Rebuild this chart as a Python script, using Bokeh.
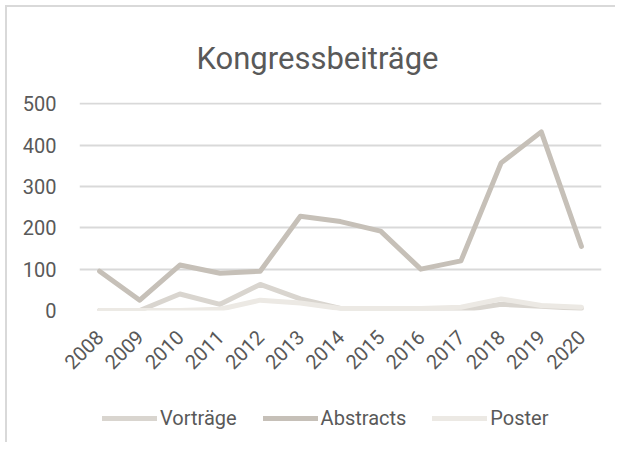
import math
from bokeh.plotting import figure
from bokeh.layouts import column
from bokeh.models import Legend, LegendItem, Title, Range1d, FixedTicker
from bokeh.embed import file_html
from bokeh.resources import INLINE

years = ["2008", "2009", "2010", "2011", "2012", "2013", "2014",
         "2015", "2016", "2017", "2018", "2019", "2020"]
vortraege = [0, 0, 40, 15, 63, 28, 5, 5, 5, 0, 15, 10, 5]
abstracts = [95, 25, 110, 90, 95, 228, 215, 192, 100, 120, 357, 432, 155]
poster = [0, 0, 0, 3, 25, 18, 5, 5, 5, 8, 28, 12, 8]
y_ticks = [0, 100, 200, 300, 400, 500]
series_names = ["Vorträge", "Abstracts", "Poster"]
series_colors = ["#d9d5cf", "#c6c0b8", "#ece9e4"]
series_values = [vortraege, abstracts, poster]

FONT = "Roboto"
TXT = "#595959"
GRID = "#d9d9d9"

p = figure(x_range=years, y_range=Range1d(0, 503), width=608, height=388,
           output_backend="svg", toolbar_location=None,
           min_border_left=72, min_border_right=14, min_border_top=95,
           min_border_bottom=85)
p.x_range.range_padding = 0
p.outline_line_color = None
p.background_fill_color = "white"
p.border_fill_color = "white"

t = Title(text="Kongressbeiträge", align="left", text_font=FONT,
          text_font_size="31px", text_color=TXT, text_font_style="normal",
          standoff=52, offset=117)
p.add_layout(t, "above")

p.xgrid.grid_line_color = None
p.ygrid.grid_line_color = GRID
p.ygrid.grid_line_width = 2
p.yaxis.ticker = FixedTicker(ticks=y_ticks)

for ax in (p.xaxis[0], p.yaxis[0]):
    ax.axis_line_color = None
    ax.major_tick_line_color = None
    ax.minor_tick_line_color = None
    ax.major_label_text_font = FONT
    ax.major_label_text_color = TXT
p.yaxis.major_label_text_font_size = "20px"
p.yaxis.major_label_standoff = 17
p.xaxis.major_label_text_font_size = "20px"
p.xaxis.major_label_orientation = math.pi / 4
p.xaxis.major_label_standoff = 17

common = dict(line_width=5, line_join="round", line_cap="round")
for vals, col in zip(series_values, series_colors):
    p.line(years, vals, line_color=col, **common)

# legend strip below the chart (its own series lie outside its visible range)
p2 = figure(width=608, height=47, output_backend="svg", toolbar_location=None,
            min_border_left=72, min_border_right=14, min_border_top=0,
            min_border_bottom=0, x_range=years, y_range=Range1d(1000, 1001))
p2.axis.visible = False
p2.grid.visible = False
p2.outline_line_color = None
p2.background_fill_color = "white"
p2.border_fill_color = "white"
items = []
for name, vals, col in zip(series_names, series_values, series_colors):
    r = p2.line(years, vals, line_color=col, line_width=5, line_cap="round")
    items.append(LegendItem(label=name, renderers=[r]))
legend = Legend(items=items, orientation="horizontal", location=(23, 12),
                label_text_font=FONT, label_text_font_size="20px",
                label_text_color=TXT, glyph_width=55, glyph_height=20,
                label_standoff=3, spacing=26, border_line_color=None,
                background_fill_alpha=0, padding=0, margin=0)
p2.add_layout(legend)

layout = column(p, p2, spacing=0,
                styles={"border-left": "2px solid #d9d9d9",
                        "border-top": "2px solid #d9d9d9",
                        "margin-left": "5px", "margin-top": "5px"})

open("out.html", "w").write(file_html(layout, INLINE))
